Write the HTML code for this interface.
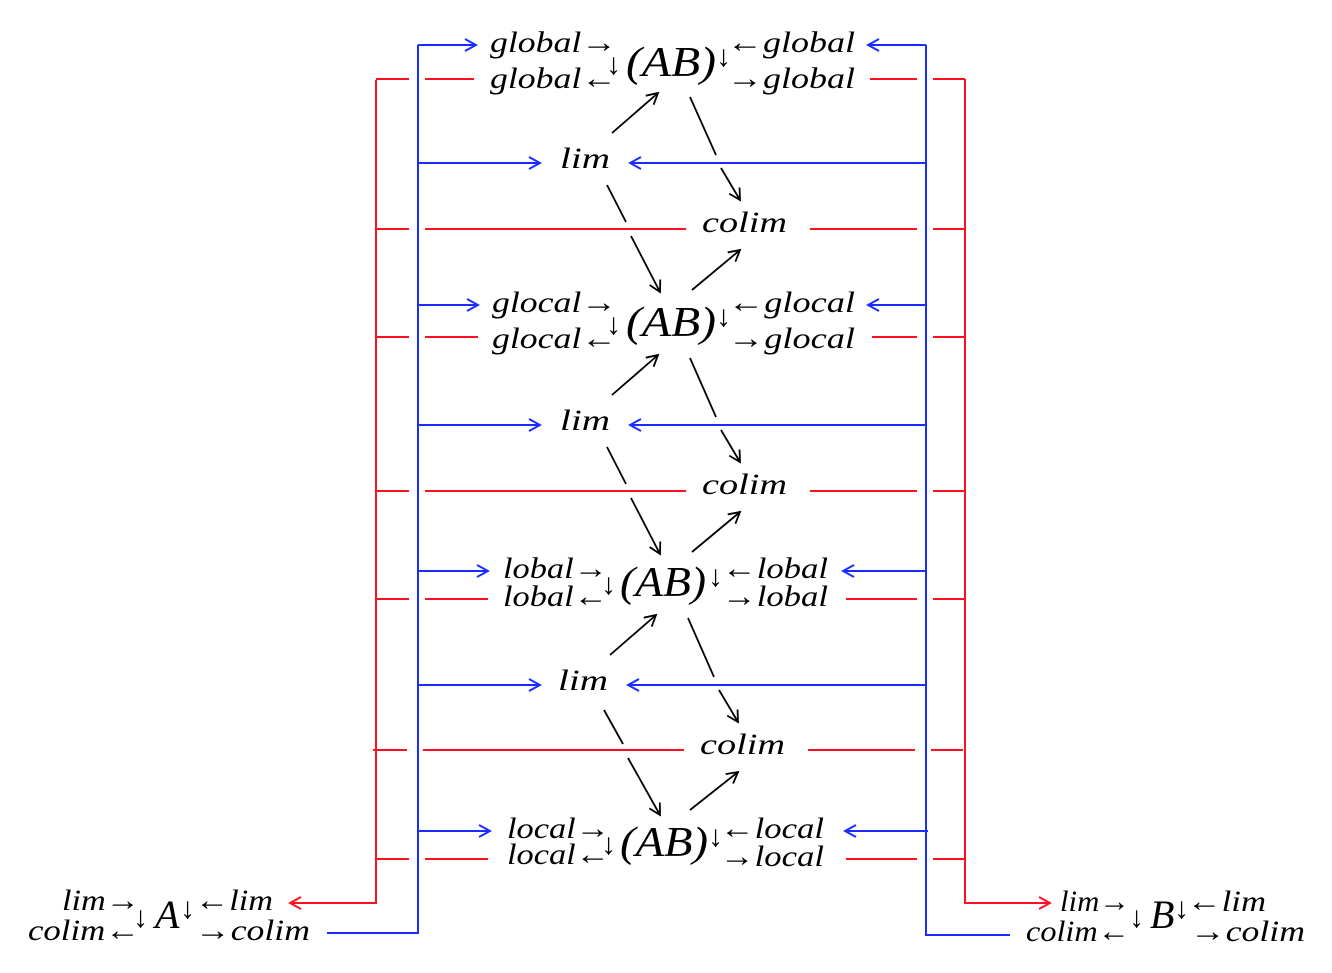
<!DOCTYPE html>
<html><head><meta charset="utf-8"><style>
html,body{margin:0;padding:0;background:#fff}
svg text{font-family:"Liberation Serif",serif;font-style:italic;fill:#000}
</style></head><body>
<svg width="1332" height="968" viewBox="0 0 1332 968" xmlns="http://www.w3.org/2000/svg">
<defs>
<marker id="ab" markerWidth="14" markerHeight="14" refX="12" refY="7" orient="auto" markerUnits="userSpaceOnUse"><path d="M1,1 L12,7 L1,13" fill="none" stroke="#1a2cff" stroke-width="2"/></marker>
<marker id="ar" markerWidth="14" markerHeight="14" refX="12" refY="7" orient="auto" markerUnits="userSpaceOnUse"><path d="M1,1 L12,7 L1,13" fill="none" stroke="#ff1020" stroke-width="2"/></marker>
<marker id="ak" markerWidth="14" markerHeight="14" refX="12" refY="7" orient="auto" markerUnits="userSpaceOnUse"><path d="M1,1 L12,7 L1,13" fill="none" stroke="#000" stroke-width="1.8"/></marker>
</defs>
<g fill="none" stroke="#ff1020" stroke-width="2">
<path d="M376,80 V903 H290" marker-end="url(#ar)"/>
<path d="M965,79 V903 H1050" marker-end="url(#ar)"/>
<path d="M376,79H409M425,79H474M870,79H917M933,79H965"/>
<path d="M376,229H409M425,229H686M810,229H917M933,229H965"/>
<path d="M376,337H409M425,337H478M872,337H917M933,337H965"/>
<path d="M376,491H409M425,491H686M810,491H917M933,491H965"/>
<path d="M376,599H409M425,599H488M846,599H917M933,599H965"/>
<path d="M373,750H407M423,750H684M808,750H915M931,750H963"/>
<path d="M376,859H409M425,859H488M846,859H917M933,859H965"/>
</g>
<g fill="none" stroke="#1a2cff" stroke-width="2">
<path d="M418,45 V933 H327"/>
<path d="M926,45 V935 H1010"/>
<path d="M418,45H476" marker-end="url(#ab)"/><path d="M926,45H868" marker-end="url(#ab)"/>
<path d="M418,163H540" marker-end="url(#ab)"/><path d="M926,163H630" marker-end="url(#ab)"/>
<path d="M418,305H478" marker-end="url(#ab)"/><path d="M926,305H868" marker-end="url(#ab)"/>
<path d="M418,425H540" marker-end="url(#ab)"/><path d="M926,425H630" marker-end="url(#ab)"/>
<path d="M418,571H488" marker-end="url(#ab)"/><path d="M926,571H843" marker-end="url(#ab)"/>
<path d="M418,685H540" marker-end="url(#ab)"/><path d="M926,685H628" marker-end="url(#ab)"/>
<path d="M418,831H490" marker-end="url(#ab)"/><path d="M928,831H845" marker-end="url(#ab)"/>
</g>
<g fill="none" stroke="#000" stroke-width="1.8">
<path d="M612,133L658,93" marker-end="url(#ak)"/>
<path d="M690,97L716,155"/><path d="M721,168L740,200" marker-end="url(#ak)"/>
<path d="M607,185L626,222"/><path d="M631,236L660,292" marker-end="url(#ak)"/>
<path d="M692,290L740,250" marker-end="url(#ak)"/>
<path d="M612,395L658,355" marker-end="url(#ak)"/>
<path d="M690,358L716,417"/><path d="M721,430L740,462" marker-end="url(#ak)"/>
<path d="M607,447L626,484"/><path d="M631,498L660,554" marker-end="url(#ak)"/>
<path d="M692,552L740,512" marker-end="url(#ak)"/>
<path d="M610,655L656,615" marker-end="url(#ak)"/>
<path d="M688,618L714,677"/><path d="M719,690L738,722" marker-end="url(#ak)"/>
<path d="M604,710L623,744"/><path d="M628,758L660,815" marker-end="url(#ak)"/>
<path d="M690,810L738,772" marker-end="url(#ak)"/>
</g>
<g font-size="30">
<text x="490" y="52" textLength="127" lengthAdjust="spacingAndGlyphs">global→</text>
<text x="490" y="88" textLength="127" lengthAdjust="spacingAndGlyphs">global←</text>
<text x="727" y="52" textLength="128" lengthAdjust="spacingAndGlyphs">←global</text>
<text x="727" y="88" textLength="128" lengthAdjust="spacingAndGlyphs">→global</text>
<text x="492" y="312" textLength="125" lengthAdjust="spacingAndGlyphs">glocal→</text>
<text x="492" y="348" textLength="125" lengthAdjust="spacingAndGlyphs">glocal←</text>
<text x="728" y="312" textLength="127" lengthAdjust="spacingAndGlyphs">←glocal</text>
<text x="728" y="348" textLength="127" lengthAdjust="spacingAndGlyphs">→glocal</text>
<text x="503" y="578" textLength="105" lengthAdjust="spacingAndGlyphs">lobal→</text>
<text x="503" y="606" textLength="105" lengthAdjust="spacingAndGlyphs">lobal←</text>
<text x="722" y="578" textLength="106" lengthAdjust="spacingAndGlyphs">←lobal</text>
<text x="722" y="606" textLength="106" lengthAdjust="spacingAndGlyphs">→lobal</text>
<text x="507" y="838" textLength="103" lengthAdjust="spacingAndGlyphs">local→</text>
<text x="507" y="864" textLength="103" lengthAdjust="spacingAndGlyphs">local←</text>
<text x="720" y="838" textLength="104" lengthAdjust="spacingAndGlyphs">←local</text>
<text x="720" y="866" textLength="104" lengthAdjust="spacingAndGlyphs">→local</text>
<text x="560" y="168" textLength="50" lengthAdjust="spacingAndGlyphs">lim</text>
<text x="560" y="430" textLength="50" lengthAdjust="spacingAndGlyphs">lim</text>
<text x="558" y="690" textLength="50" lengthAdjust="spacingAndGlyphs">lim</text>
<text x="702" y="232" textLength="85" lengthAdjust="spacingAndGlyphs">colim</text>
<text x="702" y="494" textLength="85" lengthAdjust="spacingAndGlyphs">colim</text>
<text x="700" y="754" textLength="85" lengthAdjust="spacingAndGlyphs">colim</text>
<text x="62" y="910" textLength="78" lengthAdjust="spacingAndGlyphs">lim→</text>
<text x="28" y="940" textLength="112" lengthAdjust="spacingAndGlyphs">colim←</text>
<text x="195" y="910" textLength="78" lengthAdjust="spacingAndGlyphs">←lim</text>
<text x="195" y="940" textLength="115" lengthAdjust="spacingAndGlyphs">→colim</text>
<text x="1060" y="911" textLength="70" lengthAdjust="spacingAndGlyphs">lim→</text>
<text x="1026" y="941" textLength="104" lengthAdjust="spacingAndGlyphs">colim←</text>
<text x="1187" y="911" textLength="79" lengthAdjust="spacingAndGlyphs">←lim</text>
<text x="1190" y="941" textLength="115" lengthAdjust="spacingAndGlyphs">→colim</text>
</g>
<g font-size="42">
<text x="626" y="76" textLength="90" lengthAdjust="spacingAndGlyphs">(AB)</text>
<text x="626" y="336" textLength="90" lengthAdjust="spacingAndGlyphs">(AB)</text>
<text x="620" y="596" textLength="86" lengthAdjust="spacingAndGlyphs">(AB)</text>
<text x="620" y="856" textLength="88" lengthAdjust="spacingAndGlyphs">(AB)</text>
<text x="155" y="928" font-size="40">A</text>
<text x="1150" y="928" font-size="40">B</text>
</g>
<g font-size="30" style="font-style:normal">
<text x="606" y="74">↓</text><text x="716" y="66">↓</text>
<text x="606" y="334">↓</text><text x="716" y="326">↓</text>
<text x="601" y="594">↓</text><text x="708" y="586">↓</text>
<text x="601" y="854">↓</text><text x="708" y="846">↓</text>
<text x="133" y="927">↓</text><text x="180" y="918">↓</text>
<text x="1129" y="927">↓</text><text x="1174" y="918">↓</text>
</g>
</svg>
</body></html>
